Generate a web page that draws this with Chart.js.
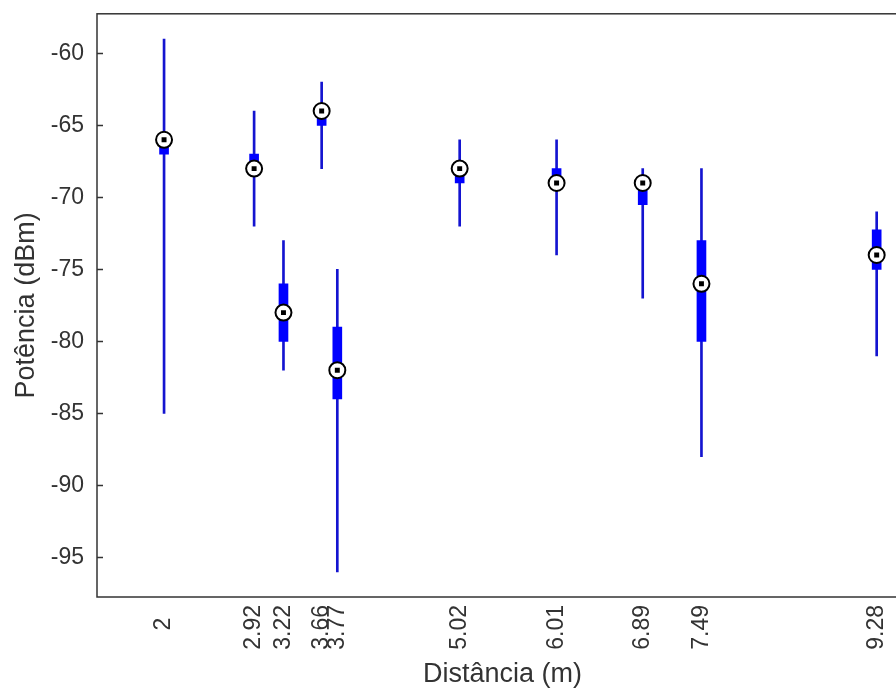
<!DOCTYPE html>
<html>
<head>
<meta charset="utf-8">
<script src="https://cdn.jsdelivr.net/npm/chart.js@4.4.0/dist/chart.umd.min.js"></script>
<style>
html, body { margin: 0; padding: 0; background: #fff; overflow: hidden; }
#wrap { width: 918px; height: 691px; }
</style>
</head>
<body>
<div id="wrap"><canvas id="rssi_boxes"></canvas></div>
<script>
// distances (m) where each box sits, and the label printed under it
var distances   = [2, 2.92, 3.22, 3.61, 3.77, 5.02, 6.01, 6.89, 7.49, 9.28];
var distLabels  = ['2', '2.92', '3.22', '3.66', '3.77', '5.02', '6.01', '6.89', '7.49', '9.28'];

// power (dBm) stats per distance
var whiskerLow  = [-85, -72, -82, -68, -96, -72, -74, -77, -88, -81];
var q1          = [-67, -68, -80, -65, -84, -69, -69, -70.5, -80, -75];
var median      = [-66, -68, -78, -64, -82, -68, -69, -69, -76, -74];
var q3          = [-66, -67, -76, -64, -79, -68, -68, -69, -73, -72.25];
var whiskerHigh = [-59, -64, -73, -62, -75, -66, -66, -68, -68, -71];

var yTicks = [-95, -90, -85, -80, -75, -70, -65, -60];

var fontFam = "'Liberation Sans', Arial, Helvetica, sans-serif";
var textCol = '#333333';

window.onload = function () {
    var whiskerData = distances.map(function (d, i) { return { x: d, y: [whiskerLow[i], whiskerHigh[i]] }; });
    var boxData = distances.map(function (d, i) { return { x: d, y: [q1[i], q3[i]] }; });
    var medianData = distances.map(function (d, i) { return { x: d, y: median[i] }; });

    // MATLAB-like axes frame with inward y ticks
    var axesBox = {
        id: 'axesBox',
        afterDatasetsDraw: function (chart) {
            var ctx = chart.ctx, a = chart.chartArea, ys = chart.scales.y;
            ctx.save();
            ctx.strokeStyle = textCol;
            ctx.lineWidth = 1.5;
            ctx.strokeRect(a.left, a.top, a.right - a.left, a.bottom - a.top);
            ctx.beginPath();
            ys.ticks.forEach(function (t) {
                var p = ys.getPixelForValue(t.value);
                ctx.moveTo(a.left, p);
                ctx.lineTo(a.left + 6, p);
                ctx.moveTo(a.right, p);
                ctx.lineTo(a.right - 6, p);
            });
            ctx.stroke();
            ctx.restore();
        }
    };

    var ctx = document.getElementById('rssi_boxes').getContext('2d');
    var boxChart = new Chart(ctx, {
        type: 'bar',
        data: {
            datasets: [
                {
                    type: 'scatter',
                    data: medianData,
                    pointStyle: 'rect',
                    pointRadius: 3.5,
                    backgroundColor: '#000',
                    borderWidth: 0,
                    order: 0
                },
                {
                    type: 'scatter',
                    data: medianData,
                    pointStyle: 'circle',
                    pointRadius: 8,
                    backgroundColor: '#fff',
                    borderColor: '#000',
                    borderWidth: 2,
                    order: 1
                },
                {
                    data: boxData,
                    backgroundColor: '#0000ff',
                    barThickness: 9,
                    grouped: false,
                    order: 2
                },
                {
                    data: whiskerData,
                    backgroundColor: '#1414d0',
                    barThickness: 2,
                    grouped: false,
                    order: 3
                }
            ]
        },
        options: {
            responsive: true,
            maintainAspectRatio: false,
            animation: false,
            layout: { padding: { top: 0, right: 1, left: 0, bottom: 0 } },
            plugins: { legend: { display: false }, tooltip: { enabled: false } },
            scales: {
                x: {
                    type: 'linear',
                    min: 1.315,
                    max: 9.6,
                    offset: false,
                    grid: { display: false, offset: false },
                    border: { display: false },
                    afterBuildTicks: function (s) {
                        s.ticks = distances.map(function (v) { return { value: v }; });
                    },
                    afterFit: function (s) { s.height = 94; },
                    ticks: {
                        autoSkip: false,
                        minRotation: 90,
                        maxRotation: 90,
                        padding: 0,
                        color: textCol,
                        font: { family: fontFam, size: 23 },
                        callback: function (value, index) {
                            var lab = distLabels[index];
                            // trailing spaces keep the short label centred like the others
                            return lab.length < 4 ? lab + '  ' : lab;
                        }
                    },
                    title: {
                        display: true,
                        text: 'Distância (m)',
                        color: textCol,
                        font: { family: fontFam, size: 27 },
                        padding: { top: 0, bottom: 0 }
                    }
                },
                y: {
                    min: -97.75,
                    max: -57.25,
                    // invisible outer ticks give the label gap without padding the top
                    grid: {
                        display: true,
                        drawOnChartArea: false,
                        drawTicks: true,
                        tickLength: 13,
                        color: 'rgba(0,0,0,0)'
                    },
                    border: { display: false },
                    afterBuildTicks: function (s) {
                        s.ticks = yTicks.map(function (v) { return { value: v }; });
                    },
                    afterFit: function (s) { s.width = 97; },
                    ticks: {
                        padding: 0,
                        color: textCol,
                        font: { family: fontFam, size: 23 }
                    },
                    title: {
                        display: true,
                        text: 'Potência (dBm)',
                        color: textCol,
                        font: { family: fontFam, size: 27 },
                        padding: { top: 10, bottom: 0 }
                    }
                }
            }
        },
        plugins: [axesBox]
    });
};
</script>
</body>
</html>
